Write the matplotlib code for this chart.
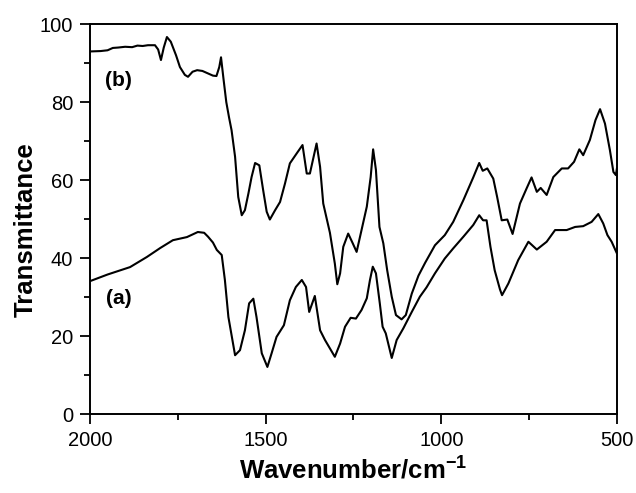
import matplotlib
matplotlib.use("Agg")
import matplotlib.pyplot as plt
import numpy as np

plt.rcParams['font.family'] = ['Liberation Sans', 'DejaVu Sans']
plt.rcParams['mathtext.fontset'] = 'custom'
plt.rcParams['mathtext.rm'] = 'Liberation Sans'
plt.rcParams['mathtext.bf'] = 'Liberation Sans:bold'

# spectrum (b)
wn_b = [2000, 1970, 1950, 1935, 1920, 1900, 1880, 1865, 1850, 1835, 1815, 1806, 1798, 1790, 1781,
        1770, 1755, 1744, 1730, 1721, 1708, 1695, 1680, 1665, 1650, 1640, 1632, 1627, 1620,
        1612, 1604, 1597, 1587, 1578, 1568, 1559, 1549, 1540, 1530, 1518, 1507, 1497, 1488,
        1473, 1459, 1445, 1431, 1412, 1395, 1383, 1374, 1355, 1345, 1336, 1317, 1303, 1296,
        1288, 1279, 1265, 1252, 1241, 1227, 1212, 1201, 1194, 1186, 1176, 1165, 1154, 1141,
        1129, 1113, 1101, 1084, 1065, 1046, 1018, 990, 966, 937, 909, 892, 882, 869, 852,
        841, 828, 812, 797, 776, 757, 743, 728, 717, 700, 681, 657, 639, 622, 607, 596,
        577, 561, 548, 534, 520, 510, 503, 500]
tr_b = [93.0, 93.1, 93.3, 93.9, 94.0, 94.2, 94.1, 94.5, 94.4, 94.6, 94.6, 93.5, 90.8, 94.0, 96.7,
        95.5, 92.0, 89.0, 87.0, 86.5, 87.8, 88.2, 88.0, 87.4, 86.8, 86.7, 89.0, 91.5, 86.0,
        80.0, 76.0, 72.8, 66.0, 55.7, 51.0, 52.3, 56.6, 60.8, 64.4, 63.8, 57.4, 51.9, 49.9,
        52.3, 54.4, 59.1, 64.3, 66.8, 69.0, 61.7, 61.7, 69.4, 63.4, 54.0, 46.5, 38.6, 33.3,
        36.1, 42.9, 46.3, 43.8, 41.6, 47.2, 53.2, 60.8, 67.9, 62.6, 48.0, 43.8, 36.9, 30.1,
        25.4, 24.3, 25.4, 30.9, 35.5, 38.8, 43.3, 45.9, 49.3, 54.9, 60.7, 64.4, 62.4, 63.0, 60.4,
        55.7, 49.7, 49.9, 46.2, 54.0, 57.9, 60.7, 57.0, 58.0, 56.2, 60.8, 63.0, 63.0, 64.7, 67.9, 66.4,
        70.3, 75.4, 78.2, 74.5, 67.7, 62.1, 61.3, 63.0]

# spectrum (a)
wn_a = [2000, 1950, 1886, 1838, 1800, 1764, 1724, 1693, 1675, 1664, 1650, 1639, 1625, 1616,
        1606, 1587, 1573, 1559, 1547, 1535, 1526, 1511, 1495, 1483, 1469, 1448, 1431, 1414,
        1397, 1385, 1376, 1360, 1345, 1331, 1303, 1288, 1274, 1258, 1243, 1227, 1212, 1203,
        1195, 1186, 1175, 1167, 1158, 1141, 1127, 1108, 1084, 1061, 1042, 1018, 990, 966,
        937, 909, 892, 881, 871, 860, 848, 833, 827, 809, 781, 752, 728, 700, 676, 643,
        619, 596, 572, 553, 539, 527, 515, 501]
tr_a = [34.1, 35.8, 37.7, 40.3, 42.6, 44.6, 45.4, 46.7, 46.5, 45.5, 44.0, 42.1, 40.8, 34.4,
        24.9, 15.1, 16.4, 21.5, 28.4, 29.6, 24.9, 15.6, 12.1, 15.6, 19.8, 22.8, 29.2, 32.6,
        34.4, 32.6, 26.2, 30.3, 21.5, 19.0, 14.7, 18.1, 22.4, 24.7, 24.5, 26.7, 29.7, 34.4,
        37.8, 36.1, 28.4, 22.4, 20.7, 14.4, 19.0, 22.0, 26.2, 30.1, 32.5, 36.1, 39.9, 42.5,
        45.5, 48.5, 51.0, 49.7, 49.7, 42.9, 36.9, 32.0, 30.5, 33.5, 39.5, 44.2, 42.2, 44.2, 47.2, 47.2,
        48.0, 48.2, 49.3, 51.3, 48.9, 45.9, 44.2, 41.4]

fig = plt.figure(figsize=(6.36, 4.93), dpi=100)
ax = fig.add_axes([0.1415, 0.160, 0.8285, 0.791])

ax.plot(wn_b, tr_b, color='black', lw=1.5, solid_joinstyle='round')
ax.plot(wn_a, tr_a, color='black', lw=1.5, solid_joinstyle='round')

ax.text(1957, 85.6, '(b)', fontsize=15, fontweight='bold', va='center', ha='left')
ax.text(1954, 29.7, '(a)', fontsize=15, fontweight='bold', va='center', ha='left')

ax.set_xlim(2000, 500)
ax.set_ylim(0, 100)
ax.set_xticks([2000, 1500, 1000, 500])
ax.set_xticks([1750, 1250, 750], minor=True)
ax.set_yticks(np.arange(0, 101, 20))
ax.set_yticks(np.arange(10, 100, 20), minor=True)
ax.tick_params(which='both', direction='out', top=False, right=False, width=1.3)
ax.tick_params(which='major', length=7, labelsize=14.5, pad=5)
ax.tick_params(which='minor', length=4)
for s in ax.spines.values():
    s.set_linewidth(1.4)

ax.set_xlabel(r'Wavenumber/cm$^{\mathbf{-1}}$', fontsize=18.5, fontweight='bold')
ax.set_ylabel('Transmittance', fontsize=18.5, fontweight='bold')
ax.xaxis.set_label_coords(0.5, -0.105)
ax.yaxis.set_label_coords(-0.100, 0.474)

fig.savefig('out.png', dpi=100)
